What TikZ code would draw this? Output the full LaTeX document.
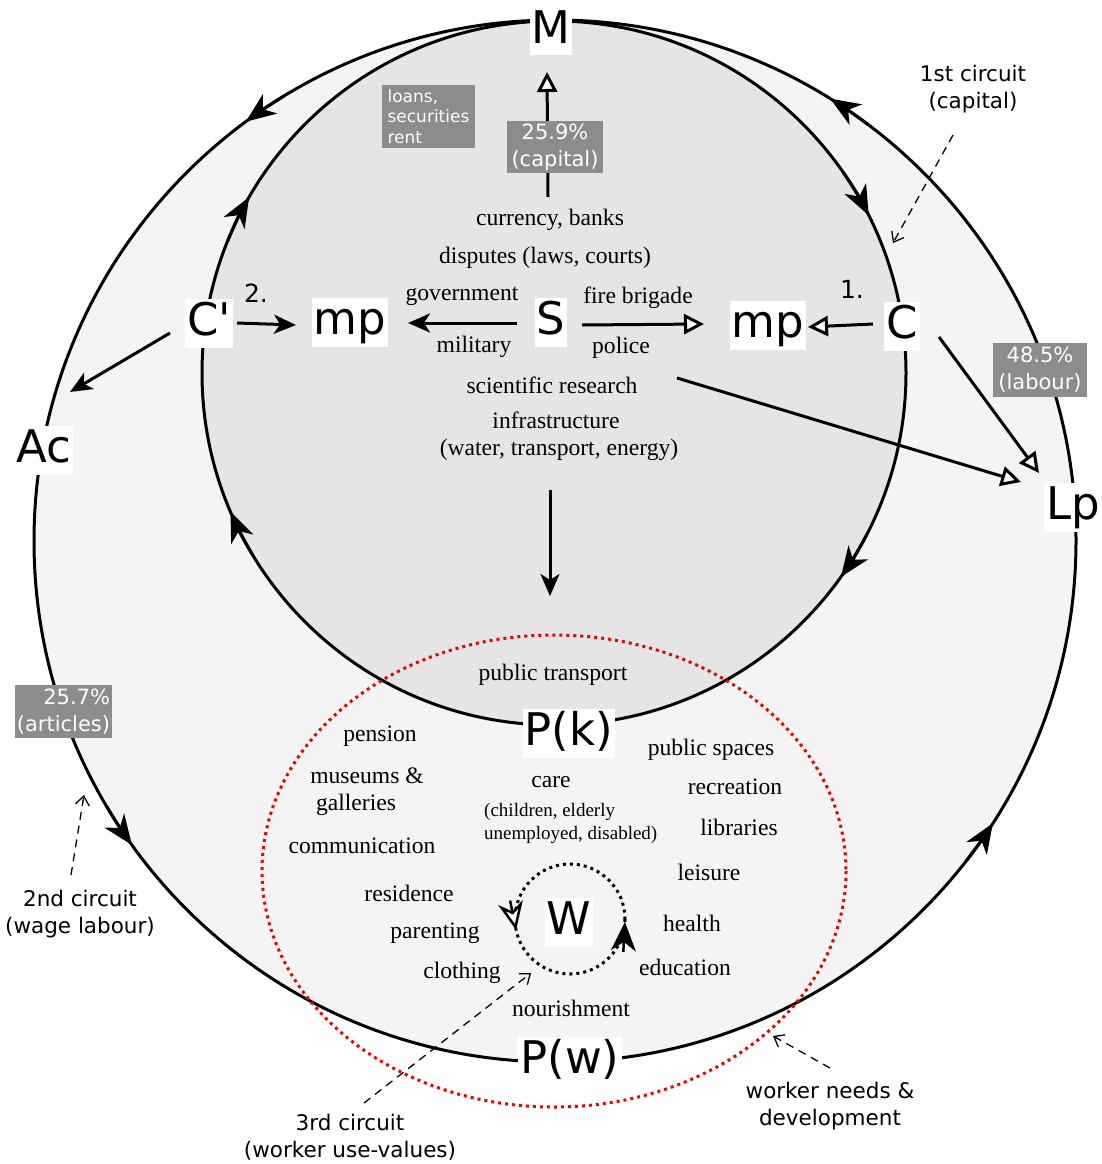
\documentclass[tikz,border=0pt]{standalone}
\usepackage{fontspec}
\setmainfont{Liberation Serif}
\newfontfamily\dejavu{DejaVu Sans}[Ligatures=TeXOff]
\usetikzlibrary{arrows.meta,calc}
\definecolor{outerfill}{RGB}{244,244,244}
\definecolor{innerfill}{RGB}{229,229,229}
\definecolor{tagfill}{RGB}{141,139,139}
\definecolor{dotred}{RGB}{240,0,0}
\begin{document}
\begin{tikzpicture}[x=1pt,y=-1pt,
  bigl/.style={font=\dejavu\fontsize{45}{50}\selectfont, fill=white, inner xsep=2pt, inner ysep=1pt, text height=36pt, text depth=11pt},
  srf/.style={font=\fontsize{23.6}{27}\selectfont, inner sep=0pt},
  tagbox/.style={fill=tagfill, text=white, font=\dejavu\fontsize{21}{27}\selectfont, inner sep=2pt, align=center},
  note/.style={font=\dejavu\fontsize{21.5}{27}\selectfont, align=center, inner sep=0pt},
  circtip/.style={-{Stealth[length=30pt,width=24pt,inset=9pt]}, line width=3pt},
  fulltip/.style={-{Stealth[length=22pt,width=19pt,inset=6pt]}, line width=3pt},
  opentip/.style={-{Triangle[length=20pt,width=20pt,fill=white]}, line width=3pt},
  hint/.style={dash pattern=on 8pt off 6pt, line width=1.3pt, -{Straight Barb[length=9pt,width=14pt]}},
  wdots/.style={line width=3pt, dash pattern=on 3pt off 4pt},
]
\useasboundingbox (0,0) rectangle (1101,1164);
\fill[white] (0,0) rectangle (1101,1164);

\coordinate (O1) at (555,541);
\coordinate (O2) at (554,373);
\coordinate (O3) at (570,919);

% circles
\draw[fill=outerfill, line width=3pt] (O1) circle[radius=521];
\draw[fill=innerfill, line width=3pt] (O2) circle[radius=352];

% arrowheads on the outer circle (counter-clockwise on screen)
\draw[circtip] ($(O1)+(238.6:521)$) arc[start angle=238.6, end angle=233.6, radius=521];
\draw[circtip] ($(O1)+(149.3:521)$) arc[start angle=149.3, end angle=144.3, radius=521];
\draw[circtip] ($(O1)+(37.8:521)$) arc[start angle=37.8, end angle=32.8, radius=521];
\draw[circtip] ($(O1)+(306.9:521)$) arc[start angle=306.9, end angle=301.9, radius=521];
% arrowheads on the inner circle (clockwise on screen)
\draw[circtip] ($(O2)+(202:352)$) arc[start angle=202, end angle=210, radius=352];
\draw[circtip] ($(O2)+(325.4:352)$) arc[start angle=325.4, end angle=333.4, radius=352];
\draw[circtip] ($(O2)+(27.4:352)$) arc[start angle=27.4, end angle=35.4, radius=352];
\draw[circtip] ($(O2)+(148.8:352)$) arc[start angle=148.8, end angle=156.8, radius=352];

% red dotted ellipse
\draw[dotred, line width=3pt, dash pattern=on 3pt off 4pt] (554,871) ellipse[x radius=292, y radius=236];

% W dotted circle
\draw[wdots] (O3) circle[radius=55];
\coordinate (wLA) at (510.1,900.6); \coordinate (wLB) at (516.1,930);
\coordinate (wRA) at (623.3,951.9); \coordinate (wRB) at (624.9,921.9);
\draw[line width=2.5pt, -{Stealth[open,fill=white,length=28pt,width=25pt,inset=9pt]}] (wLA) -- (wLB);
\draw[line width=2.5pt, -{Stealth[length=29pt,width=25pt,inset=9pt]}] (wRA) -- (wRB);

% big labels
\node[bigl] (M) at (551,31) {M};
\node[bigl] (Cp) at (209,323) {C\char"0027};
\node[bigl] (mpL) at (350,322) {mp};
\node[bigl] (S) at (551,322) {S};
\node[bigl] (mpR) at (768,325) {mp};
\node[bigl] (C) at (902,326) {C};
\node[bigl] (Lp) at (1073,507) {Lp};
\node[bigl] (Ac) at (44,450) {Ac};
\node[bigl] (Pk) at (569,733) {P(k)};
\node[bigl] (Pw) at (570,1061) {P(w)};
\node[bigl] (W) at (569,922) {W};

\node[font=\dejavu\fontsize{25}{28}\selectfont, inner sep=0pt] (n1) at (852,289) {1.};
\node[font=\dejavu\fontsize{25}{28}\selectfont, inner sep=0pt] (n2) at (256,293) {2.};

% arrow endpoints
\coordinate (mA) at (548,197); \coordinate (mB) at (547,72);
\coordinate (cpA) at (237,323); \coordinate (cpB) at (296,325);
\coordinate (sLA) at (517,323); \coordinate (sLB) at (408,323);
\coordinate (sRA) at (582,325); \coordinate (sRB) at (704,324);
\coordinate (cA) at (873,324); \coordinate (cB) at (808,327);
\coordinate (acA) at (170,333); \coordinate (acB) at (70,392);
\coordinate (lpA) at (939,337); \coordinate (lpB) at (1039,473);
\coordinate (srA) at (677,378); \coordinate (srB) at (1021,482);
\coordinate (dnA) at (550,490); \coordinate (dnB) at (550,596);

\draw[opentip] (mA) -- (mB);
\draw[fulltip] (cpA) -- (cpB);
\draw[fulltip] (sLA) -- (sLB);
\draw[opentip] (sRA) -- (sRB);
\draw[opentip] (cA) -- (cB);
\draw[fulltip] (acA) -- (acB);
\draw[opentip] (lpA) -- (lpB);
\draw[opentip] (srA) -- (srB);
\draw[fulltip] (dnA) -- (dnB);

% grey tags
\node[tagbox, minimum width=93pt, minimum height=63pt, align=left, font=\dejavu\fontsize{17}{20.5}\selectfont] (loans) at (428.5,116.5) {loans,\\securities\\rent};
\node[tagbox, minimum width=96pt, minimum height=52pt] (capt) at (555,147) {25.9\%\\(capital)};
\node[tagbox, minimum width=94pt, minimum height=54pt] (lab) at (1040,370) {48.5\%\\(labour)};
\node[tagbox, minimum width=97pt, minimum height=53pt, align=right] (art) at (63.5,711.5) {25.7\%\\(articles)};

% state text
\node[srf] (t1) at (550,220) {currency, banks};
\node[srf] (t2) at (545,258) {disputes (laws, courts)};
\node[srf] (t3) at (462,296) {government};
\node[srf] (t4) at (474,347) {military};
\node[srf] (t5) at (638,298) {fire brigade};
\node[srf] (t6) at (621,348) {police};
\node[srf] (t7) at (552,385) {scientific research};
\node[srf] (t8) at (556,420) {infrastructure};
\node[srf] (t9) at (559,450) {(water, transport, energy)};

% worker text
\node[srf] (u1) at (553,675) {public transport};
\node[srf] (u2) at (380,736) {pension};
\node[srf] (u3) at (367,776) {museums \&};
\node[srf] (u4) at (356,805) {galleries};
\node[srf] (u5) at (362,846) {communication};
\node[srf] (u6) at (551,782) {care};
\node[srf, font=\fontsize{19}{23}\selectfont, align=left, anchor=west] (u7) at (484,823.5) {(children, elderly\\unemployed, disabled)};
\node[srf] (u8) at (711,750) {public spaces};
\node[srf] (u9) at (735,787) {recreation};
\node[srf] (u10) at (739,827) {libraries};
\node[srf] (u11) at (709,872) {leisure};
\node[srf] (u12) at (409,893) {residence};
\node[srf] (u13) at (435,933) {parenting};
\node[srf] (u14) at (462,973) {clothing};
\node[srf] (u15) at (571,1008) {nourishment};
\node[srf] (u16) at (692,923) {health};
\node[srf] (u17) at (685,967) {education};

% circuit notes
\node[note] (c1) at (973,89) {1st circuit\\(capital)};
\node[note] (c2) at (80,914.5) {2nd circuit\\(wage labour)};
\node[note] (c3) at (350,1137.5) {3rd circuit\\(worker use-values)};
\node[note] (c4) at (830,1106) {worker needs \&\\development};

\coordinate (h1A) at (953,135); \coordinate (h1B) at (893,243);
\coordinate (h2A) at (71,875); \coordinate (h2B) at (84,795);
\coordinate (h3A) at (364,1103); \coordinate (h3B) at (531,973);
\coordinate (h4A) at (830,1068); \coordinate (h4B) at (773,1036);
\draw[hint] (h1A) -- (h1B);
\draw[hint] (h2A) -- (h2B);
\draw[hint] (h3A) -- (h3B);
\draw[hint] (h4A) -- (h4B);
\end{tikzpicture}
\end{document}
